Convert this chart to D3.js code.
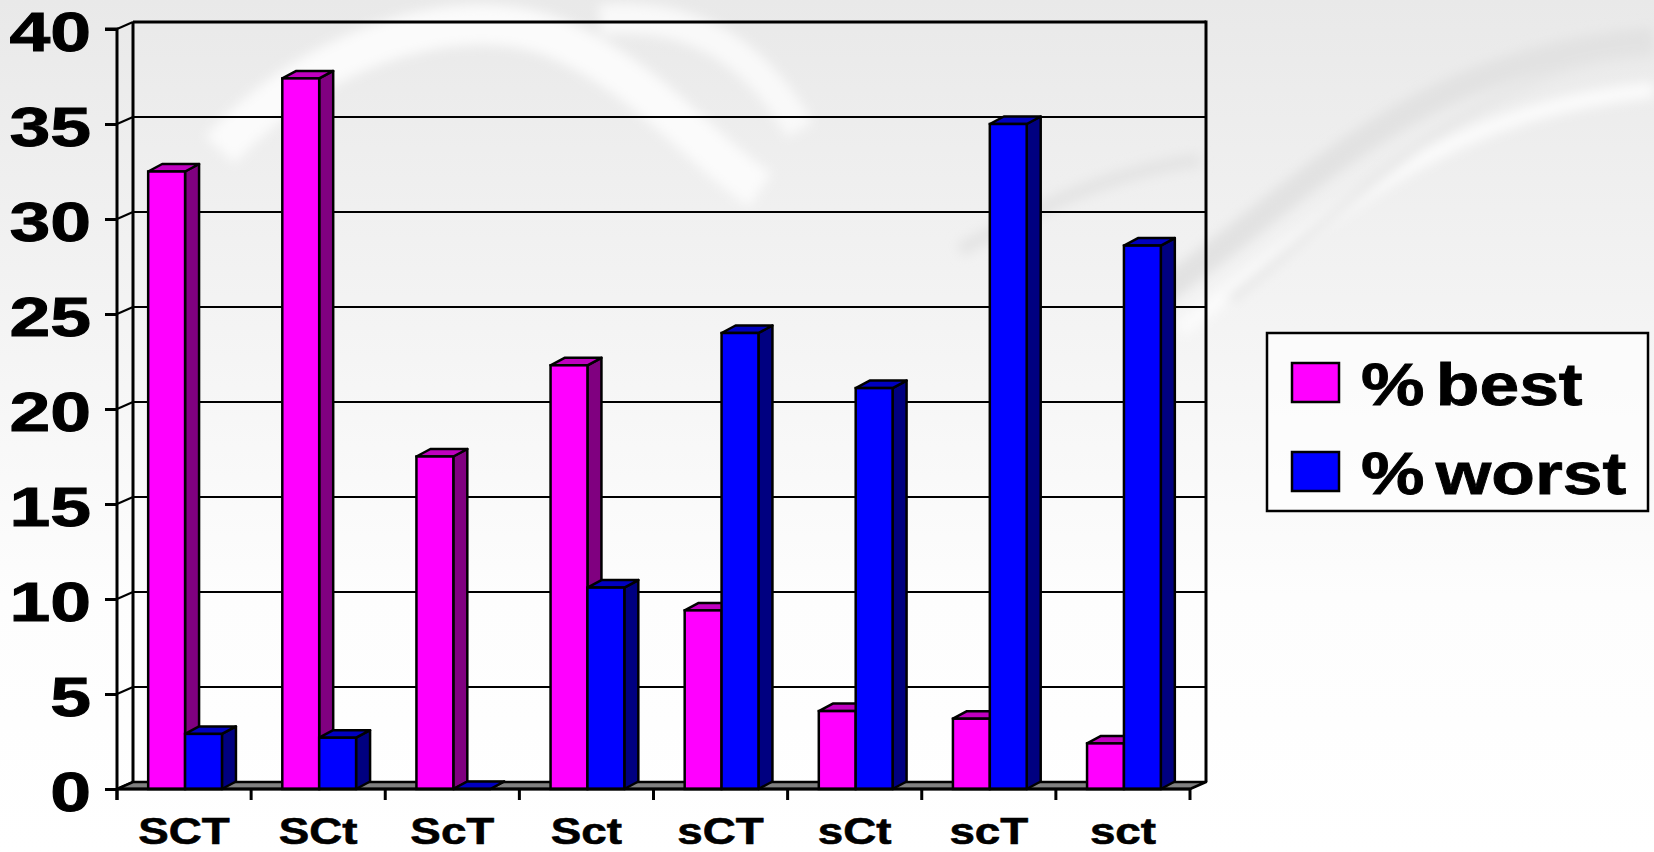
<!DOCTYPE html>
<html>
<head>
<meta charset="utf-8">
<script src="https://cdn.jsdelivr.net/npm/d3@7"></script>
<style>
  html, body { margin: 0; padding: 0; background: #ffffff; }
  svg { display: block; }
  text { font-family: "Liberation Sans", Arial, sans-serif; font-weight: bold; fill: #000; }
</style>
</head>
<body>
<script>
// Share of best / worst ratings for each S-C-T combination
const categories = ["SCT", "SCt", "ScT", "Sct", "sCT", "sCt", "scT", "sct"];
const bestValues = [32.5, 37.4, 17.5, 22.3, 9.4, 4.1, 3.7, 2.4];
const worstValues = [2.9, 2.7, 0, 10.6, 24.0, 21.1, 35.0, 28.6];
const seriesNames = ["% best", "% worst"];
const yTicks = [0, 5, 10, 15, 20, 25, 30, 35, 40];

const W = 1654, H = 852;
const svg = d3.select("body").append("svg").attr("width", W).attr("height", H);
const defs = svg.append("defs");

// widen bold text horizontally without transforms
function widen(sel, factor) {
  sel.each(function () {
    const len = this.getComputedTextLength();
    d3.select(this).attr("textLength", len * factor).attr("lengthAdjust", "spacingAndGlyphs");
  });
}

// ---- soft slide backdrop ----
const bg = defs.append("linearGradient").attr("id", "bgGrad").attr("x1", 0).attr("y1", 0).attr("x2", 0).attr("y2", 1);
bg.append("stop").attr("offset", "0").attr("stop-color", "#e9e9e9");
bg.append("stop").attr("offset", "0.35").attr("stop-color", "#f3f3f3");
bg.append("stop").attr("offset", "0.7").attr("stop-color", "#fdfdfd");
bg.append("stop").attr("offset", "1").attr("stop-color", "#ffffff");
svg.append("rect").attr("width", W).attr("height", H).attr("fill", "url(#bgGrad)");

const blur = defs.append("filter").attr("id", "soft").attr("x", "-20%").attr("y", "-20%").attr("width", "140%").attr("height", "140%");
blur.append("feGaussianBlur").attr("stdDeviation", 6);
const swirl = svg.append("g").attr("filter", "url(#soft)").attr("fill", "none");
swirl.append("path").attr("d", "M1150,300 C1300,200 1400,60 1654,40").attr("stroke", "#e2e2e2").attr("stroke-width", 26);
swirl.append("path").attr("d", "M1180,330 C1350,200 1450,110 1654,90").attr("stroke", "#fbfbfb").attr("stroke-width", 16);
swirl.append("path").attr("d", "M1230,300 C1400,160 1500,60 1654,55").attr("stroke", "#e6e6e6").attr("stroke-width", 8);
swirl.append("path").attr("d", "M220,150 C320,40 470,0 560,40 C650,80 700,150 760,190").attr("stroke", "#fbfbfb").attr("stroke-width", 40);
swirl.append("path").attr("d", "M600,20 C700,10 760,60 800,130").attr("stroke", "#f9f9f9").attr("stroke-width", 30);
swirl.append("path").attr("d", "M960,250 C1050,200 1120,170 1200,160").attr("stroke", "#e4e4e4").attr("stroke-width", 14);

// ---- scales ----
const xLeft = 117, xRight = 1190;
const x0 = d3.scaleBand().domain(categories).range([xLeft, xRight]).paddingInner(0).paddingOuter(0);
const groupW = x0.bandwidth() * 0.55;
const groupOff = (x0.bandwidth() - groupW) / 2 + 1;
const x1 = d3.scaleBand().domain(seriesNames).range([0, groupW]).padding(0);
const y = d3.scaleLinear().domain([0, 40]).range([789, 29]);

// depth offsets for the 3-D frame and the bars
const wallDx = 16, wallDy = -7;
const barDx = 14, barDy = -7.5;

const frame = svg.append("g");

// back wall gridlines
frame.selectAll("line.grid").data(yTicks.filter(d => d > 0)).join("line")
  .attr("class", "grid")
  .attr("x1", xLeft + wallDx).attr("x2", xRight + wallDx)
  .attr("y1", d => y(d) + wallDy).attr("y2", d => y(d) + wallDy)
  .attr("stroke", "#000").attr("stroke-width", d => d === 40 ? 3 : 2);

// diagonals from front axis to back wall
frame.selectAll("line.diag").data(yTicks).join("line")
  .attr("class", "diag")
  .attr("x1", xLeft).attr("x2", xLeft + wallDx)
  .attr("y1", d => y(d)).attr("y2", d => y(d) + wallDy)
  .attr("stroke", "#000").attr("stroke-width", 2);

// back-left and back-right wall edges
frame.append("line").attr("x1", xLeft + wallDx).attr("x2", xLeft + wallDx)
  .attr("y1", y(40) + wallDy).attr("y2", y(0) + wallDy).attr("stroke", "#000").attr("stroke-width", 3);
frame.append("line").attr("x1", xRight + wallDx).attr("x2", xRight + wallDx)
  .attr("y1", y(40) + wallDy - 1.5).attr("y2", y(0) + wallDy).attr("stroke", "#000").attr("stroke-width", 3);

// floor
frame.append("path")
  .attr("d", `M${xLeft},${y(0)} L${xRight},${y(0)} L${xRight + wallDx},${y(0) + wallDy} L${xLeft + wallDx},${y(0) + wallDy} Z`)
  .attr("fill", "#808080").attr("stroke", "#000").attr("stroke-width", 2.5).attr("stroke-linejoin", "round");

// ---- bars ----
const seriesData = [
  { name: seriesNames[0], values: bestValues, front: "#ff00ff", side: "#800080", top: "#c000c0" },
  { name: seriesNames[1], values: worstValues, front: "#0000ff", side: "#000080", top: "#0000c0" }
];
const bars = [];
categories.forEach((c, i) => {
  seriesData.forEach(s => {
    bars.push({ cat: c, series: s, value: s.values[i] });
  });
});

const barG = svg.append("g");
bars.forEach(b => {
  const bx0 = x0(b.cat) + groupOff + x1(b.series.name);
  const bx1 = bx0 + x1.bandwidth();
  const yt = y(b.value), yb = y(0);
  const g = barG.append("g");
  g.append("path")
    .attr("d", `M${bx1},${yb} L${bx1 + barDx},${yb + barDy} L${bx1 + barDx},${yt + barDy} L${bx1},${yt} Z`)
    .attr("fill", b.series.side).attr("stroke", "#000").attr("stroke-width", 2.5).attr("stroke-linejoin", "round");
  g.append("path")
    .attr("d", `M${bx0},${yt} L${bx0 + barDx},${yt + barDy} L${bx1 + barDx},${yt + barDy} L${bx1},${yt} Z`)
    .attr("fill", b.series.top).attr("stroke", "#000").attr("stroke-width", 2.5).attr("stroke-linejoin", "round");
  if (yb - yt > 0) {
    g.append("rect")
      .attr("x", bx0).attr("y", yt).attr("width", bx1 - bx0).attr("height", yb - yt)
      .attr("fill", b.series.front).attr("stroke", "#000").attr("stroke-width", 2.5);
  }
});

// ---- axes ----
// front x-axis line and category boundary ticks
const axisG = svg.append("g");
axisG.append("line").attr("x1", xLeft).attr("x2", xRight).attr("y1", y(0)).attr("y2", y(0))
  .attr("stroke", "#000").attr("stroke-width", 3);
const bounds = categories.map(c => x0(c)).concat([xRight]);
axisG.selectAll("line.xt").data(bounds).join("line")
  .attr("class", "xt")
  .attr("x1", d => d).attr("x2", d => d).attr("y1", y(0)).attr("y2", y(0) + 11)
  .attr("stroke", "#000").attr("stroke-width", 3);

// y axis
const yAxis = d3.axisLeft(y).tickValues(yTicks).tickSize(12).tickPadding(14).tickFormat(d3.format("d"));
const yG = svg.append("g").attr("transform", `translate(${xLeft},0)`).call(yAxis);
yG.select(".domain").attr("stroke", "#000").attr("stroke-width", 3).attr("d", `M-12,${y(40)}H0V${y(0) + 11}`);
yG.selectAll(".tick line").attr("stroke", "#000").attr("stroke-width", 3);
const yLabels = yG.selectAll(".tick text")
  .attr("x", -26).attr("dy", null).attr("y", 21.5)
  .style("font-size", "56px").style("font-family", "'Liberation Sans', Arial, sans-serif")
  .style("font-weight", "bold").attr("fill", "#000")
  .attr("stroke", "#000").attr("stroke-width", 0.9);
widen(yLabels, 1.31);

// x axis labels
const xAxis = d3.axisBottom(x0).tickSize(0).tickPadding(0);
const xG = svg.append("g").attr("transform", `translate(0,${y(0)})`).call(xAxis);
xG.select(".domain").remove();
const xLabels = xG.selectAll(".tick text")
  .attr("y", 54.5).attr("dy", null)
  .style("font-size", "37.5px").style("font-family", "'Liberation Sans', Arial, sans-serif")
  .style("font-weight", "bold").attr("fill", "#000")
  .attr("stroke", "#000").attr("stroke-width", 0.6);
widen(xLabels, 1.22);

// ---- legend ----
const legend = svg.append("g");
legend.append("rect").attr("x", 1267).attr("y", 333).attr("width", 381).attr("height", 178)
  .attr("fill", "#ffffff").attr("fill-opacity", 0.6).attr("stroke", "#000").attr("stroke-width", 2.5);
seriesData.forEach((s, i) => {
  const rowY = 363 + i * 89;
  legend.append("rect").attr("x", 1292).attr("y", rowY).attr("width", 47).attr("height", 39)
    .attr("fill", s.front).attr("stroke", "#000").attr("stroke-width", 2.5);
  const t = legend.append("text")
    .attr("x", 1361).attr("y", rowY + 42)
    .style("font-size", "59px")
    .style("word-spacing", "-7px")
    .attr("stroke", "#000").attr("stroke-width", 0.8)
    .text(s.name);
  widen(t, 1.21);
});
</script>
</body>
</html>
